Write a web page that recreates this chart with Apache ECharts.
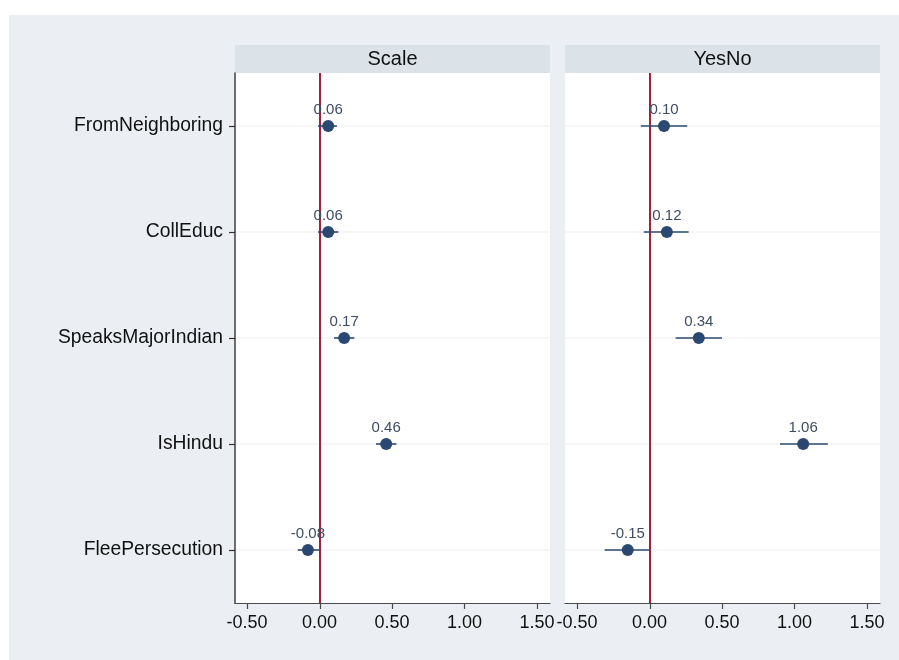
<!DOCTYPE html>
<html>
<head>
<meta charset="utf-8">
<style>html,body{margin:0;padding:0;background:#fff}#c{width:899px;height:660px}</style>
<script src="https://cdn.jsdelivr.net/npm/echarts@6/dist/echarts.min.js"></script>
</head>
<body>
<div id="c"></div>
<script>
const categories = ['FromNeighboring','CollEduc','SpeaksMajorIndian','IsHindu','FleePersecution'];
const panels = ['Scale','YesNo'];
const scaleEst = [0.06, 0.06, 0.17, 0.46, -0.08];
const scaleLo  = [-0.01, -0.01, 0.10, 0.39, -0.15];
const scaleHi  = [0.12, 0.13, 0.24, 0.53, 0.00];
const yesnoEst = [0.10, 0.12, 0.34, 1.06, -0.15];
const yesnoLo  = [-0.06, -0.04, 0.18, 0.90, -0.31];
const yesnoHi  = [0.26, 0.27, 0.50, 1.23, 0.00];
const xTicks = [-0.5, 0, 0.5, 1, 1.5];
const xMin = -0.583, xMax = 1.59;

const estimates = [scaleEst, yesnoEst];
const lows = [scaleLo, yesnoLo];
const highs = [scaleHi, yesnoHi];

const FONT = '"Liberation Sans", Arial, Helvetica, sans-serif';
const GRID_LEFT = [235, 565], GRID_W = 315, GRID_TOP = 73, GRID_H = 530;
const DOT = '#2b4872', RED = '#a2213f', AXIS = '#4a4a4a';

const chart = echarts.init(document.getElementById('c'), null, {renderer: 'canvas'});

const grids = [], xAxes = [], yAxes = [], series = [];
const graphics = [{
  type: 'rect', z: -10, shape: {x: 9, y: 15, width: 890, height: 645},
  style: {fill: '#ebeff3'}, silent: true
}];

panels.forEach((name, i) => {
  grids.push({left: GRID_LEFT[i], top: GRID_TOP, width: GRID_W, height: GRID_H,
    show: true, backgroundColor: '#ffffff', borderWidth: 0, containLabel: false});
  xAxes.push({
    type: 'value', gridIndex: i, min: xMin, max: xMax, z: 5,
    axisLine: {show: true, onZero: false, lineStyle: {color: AXIS, width: 1.2}},
    axisTick: {show: false},
    axisLabel: {show: true, color: '#111', fontSize: 18, fontFamily: FONT, margin: 11,
      customValues: xTicks, formatter: v => v.toFixed(2)},
    splitLine: {show: false}
  });
  yAxes.push({
    type: 'category', gridIndex: i, data: categories, inverse: true, z: 5,
    axisLine: {show: i === 0, onZero: false, lineStyle: {color: AXIS, width: 1.6}},
    axisTick: {show: i === 0, alignWithLabel: true, length: 6, lineStyle: {color: '#333', width: 1.2}},
    axisLabel: {show: i === 0, color: '#111', fontSize: 19.3, fontFamily: FONT, margin: 12},
    splitLine: {show: false}
  });
  // horizontal grid lines at each category
  series.push({
    type: 'custom', xAxisIndex: i, yAxisIndex: i, z: 1, silent: true,
    data: categories.map((c, k) => [0, k]),
    renderItem: (params, api) => {
      const p = api.coord([0, api.value(1)]);
      const cs = params.coordSys;
      return {type: 'line', shape: {x1: cs.x, y1: p[1], x2: cs.x + cs.width, y2: p[1]},
        style: {stroke: '#eeeeee', lineWidth: 1}};
    }
  });
  // x-axis tick marks at the tick values, drawn below the axis line
  series.push({
    type: 'custom', xAxisIndex: i, yAxisIndex: i, z: 5, silent: true, clip: false,
    data: xTicks.map(v => [v, 0]),
    renderItem: (params, api) => {
      const p = api.coord([api.value(0), 0]);
      const cs = params.coordSys;
      const y0 = cs.y + cs.height;
      const x = Math.round(p[0]) + 0.5;
      return {type: 'line', shape: {x1: x, y1: y0, x2: x, y2: y0 + 6},
        style: {stroke: AXIS, lineWidth: 1.2}};
    }
  });
  // confidence intervals
  series.push({
    type: 'custom', xAxisIndex: i, yAxisIndex: i, z: 3, silent: true,
    data: categories.map((c, k) => [lows[i][k], highs[i][k], k]),
    renderItem: (params, api) => {
      const a = api.coord([api.value(0), api.value(2)]);
      const b = api.coord([api.value(1), api.value(2)]);
      return {type: 'line', shape: {x1: a[0], y1: a[1], x2: b[0], y2: b[1]},
        style: {stroke: DOT, lineWidth: 1.6}};
    }
  });
  // point estimates
  series.push({
    type: 'scatter', xAxisIndex: i, yAxisIndex: i, z: 4, silent: true,
    symbol: 'circle', symbolSize: 12,
    itemStyle: {color: DOT, opacity: 1},
    data: categories.map((c, k) => [estimates[i][k], k]),
    label: {show: true, position: 'top', distance: 3, color: '#3e4d62', fontSize: 15, fontFamily: FONT,
      formatter: p => p.value[0].toFixed(2)},
    markLine: {silent: true, symbol: 'none', z: 2, animation: false,
      lineStyle: {color: RED, width: 2, type: 'solid'}, label: {show: false},
      data: [{xAxis: 0}]}
  });
  graphics.push({
    type: 'rect', z: -5, shape: {x: GRID_LEFT[i], y: 45, width: GRID_W, height: GRID_TOP - 45},
    style: {fill: '#dbe2e8'}, silent: true
  });
  graphics.push({
    type: 'text', z: -4, x: GRID_LEFT[i] + GRID_W / 2, y: 45 + (GRID_TOP - 45) / 2,
    style: {text: name, fill: '#111', fontSize: 20, fontFamily: FONT, align: 'center', verticalAlign: 'middle'},
    silent: true
  });
});

chart.setOption({
  backgroundColor: '#ffffff',
  animation: false,
  grid: grids, xAxis: xAxes, yAxis: yAxes, series: series,
  graphic: graphics
});
</script>
</body>
</html>
